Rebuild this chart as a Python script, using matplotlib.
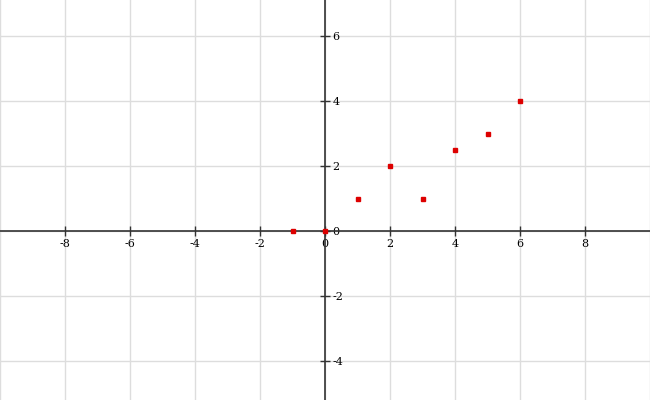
import matplotlib
matplotlib.use("Agg")
import matplotlib.pyplot as plt

# data points
xs = [-1, 0, 1, 2, 3, 4, 5, 6]
ys = [0, 0, 1, 2, 1, 2.5, 3, 4]
x_ticks = [-8, -6, -4, -2, 0, 2, 4, 6, 8]
y_ticks = [-4, -2, 0, 2, 4, 6]

plt.rcParams['font.family'] = ['DejaVu Serif']
plt.rcParams['axes.unicode_minus'] = False

fig = plt.figure(figsize=(6.5, 4), dpi=100)
ax = fig.add_axes([0, 0, 1, 1])

ax.set_xlim(-10, 10)
ax.set_ylim(-5.2, 7.108)

# grid every 2 units
for gx in range(-10, 11, 2):
    ax.axvline(gx, color='#dddddd', linewidth=1, zorder=0)
for gy in range(-4, 8, 2):
    ax.axhline(gy, color='#dddddd', linewidth=1, zorder=0)

# axes through the origin
ax.spines['left'].set_visible(False)
ax.spines['top'].set_visible(False)
ax.spines['right'].set_position(('data', 0))
ax.spines['bottom'].set_position(('data', 0))
for s in ('right', 'bottom'):
    ax.spines[s].set_color('#333333')
    ax.spines[s].set_linewidth(1.2)

ax.yaxis.tick_right()
ax.set_xticks(x_ticks)
ax.set_yticks(y_ticks)
ax.tick_params(axis='both', direction='inout', length=7, width=1,
               color='#333333', labelsize=8, pad=2)

ax.plot(xs, ys, 's', color='#dd0000', markersize=3.5, zorder=5, clip_on=False)

fig.savefig('out.png', dpi=100)
